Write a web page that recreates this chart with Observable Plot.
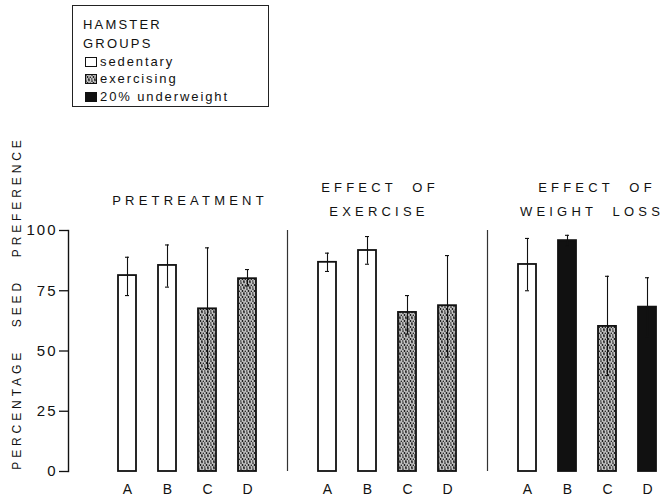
<!DOCTYPE html>
<html><head><meta charset="utf-8">
<script src="https://cdn.jsdelivr.net/npm/d3@7"></script>
<script src="https://cdn.jsdelivr.net/npm/@observablehq/plot@0.6"></script>
<style>
body{margin:0;background:#fff;}
#wrap{position:relative;width:667px;height:501px;font-family:"Liberation Sans",Arial,sans-serif;color:#111;overflow:hidden;}
#wrap svg.plot{position:absolute;left:0;top:0;}
.ttl{position:absolute;width:220px;text-align:center;font-size:13px;letter-spacing:4.2px;white-space:pre;line-height:1;}
#legend{position:absolute;left:72px;top:5px;width:197px;height:102px;border:1.6px solid #222;box-sizing:border-box;font-size:13px;line-height:1;}
#legend .ln{position:absolute;left:10px;white-space:pre;}
#legend .cap{letter-spacing:2.2px;}
#legend .low{letter-spacing:1.9px;left:27px;}
#legend .sw{position:absolute;left:12px;width:12px;height:10px;box-sizing:border-box;border:1.3px solid #111;overflow:hidden;}
#ylab{position:absolute;left:17px;top:303px;transform:translate(-50%,-50%) rotate(-90deg);font-size:12px;letter-spacing:3.9px;white-space:pre;line-height:1;}
</style></head><body><div id="wrap"></div><script>
// ---- data ----
const groups = ["PRETREATMENT", "EFFECT OF EXERCISE", "EFFECT OF WEIGHT LOSS"];
const letters = ["A", "B", "C", "D"];
const conditionNames = ["sedentary", "exercising", "20% underweight"];
const yTicks = [0, 25, 50, 75, 100];
// condition index per bar: 0 sedentary, 1 exercising, 2 underweight
const preCond = [0, 0, 1, 1];
const exCond  = [0, 0, 1, 1];
const wlCond  = [0, 2, 1, 2];
const preMean = [81.3, 85.5, 67.5, 80.0];
const preLo   = [73.0, 76.5, 42.7, 77.0];
const preHi   = [88.9, 94.0, 92.8, 83.8];
const exMean  = [86.8, 91.7, 66.0, 68.8];
const exLo    = [83.0, 86.0, 57.0, 47.5];
const exHi    = [90.6, 97.5, 73.0, 89.6];
const wlMean  = [85.9, 95.8, 60.2, 68.2];
const wlLo    = [75.0, 93.5, 39.8, 56.0];
const wlHi    = [96.7, 98.0, 81.0, 80.4];

const series = [
  {mean: preMean, lo: preLo, hi: preHi, cond: preCond},
  {mean: exMean, lo: exLo, hi: exHi, cond: exCond},
  {mean: wlMean, lo: wlLo, hi: wlHi, cond: wlCond}
];
const rows = [];
series.forEach((s, g) => letters.forEach((l, i) => rows.push({
  key: g + l, letter: l, group: groups[g], mean: s.mean[i], lo: s.lo[i], hi: s.hi[i], cond: s.cond[i]
})));
const barKeys = rows.map(d => d.key);
const sepKeys = ["s1", "s2"];
const xDomain = [...barKeys.slice(0, 4), "s1", ...barKeys.slice(4, 8), "s2", ...barKeys.slice(8)];
const letterOf = new Map(rows.map(d => [d.key, d.letter]));

const fills = ["white", "url(#stip)", "#111"];

const plot = Plot.plot({
  width: 667, height: 501,
  marginLeft: 68, marginRight: 0, marginTop: 230, marginBottom: 30,
  style: {fontFamily: '"Liberation Sans", Arial, sans-serif', color: "#111", background: "transparent"},
  x: {type: "band", domain: xDomain, paddingInner: 0.557, paddingOuter: 0.654, align: 0.81, axis: null},
  y: {domain: [0, 100], axis: null},
  marks: [
    Plot.frame({anchor: "left", strokeWidth: 1.4}),
    Plot.axisY({ticks: yTicks, tickSize: 9, tickPadding: 2, fontSize: 15, label: null, strokeWidth: 1.3}),
    Plot.axisX({ticks: barKeys, tickSize: 0, tickPadding: 13, fontSize: 14, label: null, tickFormat: k => letterOf.get(k)}),
    Plot.ruleX(sepKeys, {x: d => d, y1: 0, y2: 100, strokeWidth: 1.2, stroke: "#333"}),
    ...[0, 1, 2].map(c => Plot.barY(rows.filter(d => d.cond === c), {x: "key", y: "mean", fill: fills[c], stroke: "#111", strokeWidth: 1.8})),
    Plot.ruleX(rows, {x: "key", y1: "lo", y2: "hi", strokeWidth: 1.1, stroke: "#111"}),
    Plot.tickY(rows, {x: "key", y: "hi", insetLeft: 7, insetRight: 7, strokeWidth: 1.1}),
    Plot.tickY(rows, {x: "key", y: "lo", insetLeft: 7, insetRight: 7, strokeWidth: 1.1})
  ]
});
plot.classList.add("plot");
const ns = "http://www.w3.org/2000/svg";
const defs = document.createElementNS(ns, "defs");
defs.innerHTML = `<pattern id="stip" patternUnits="userSpaceOnUse" width="6" height="6">
  <rect width="6" height="6" fill="#c4c4c4"/>
  <circle cx="1" cy="1" r="0.85" fill="#111"/><circle cx="4" cy="0.6" r="0.8" fill="#222"/>
  <circle cx="2.5" cy="3" r="0.9" fill="#111"/><circle cx="5.3" cy="3.3" r="0.8" fill="#222"/>
  <circle cx="0.8" cy="5" r="0.8" fill="#222"/><circle cx="3.9" cy="5.2" r="0.85" fill="#111"/>
</pattern>`;
plot.insertBefore(defs, plot.firstChild);
plot.querySelectorAll('g[aria-label="y-axis tick label"] text').forEach(t => t.style.letterSpacing = "2px");

const wrap = document.getElementById("wrap");
wrap.appendChild(plot);

// titles
function title(text, cx, cy) {
  const d = document.createElement("div");
  d.className = "ttl"; d.textContent = text;
  d.style.left = (cx - 110) + "px"; d.style.top = (cy - 6) + "px";
  wrap.appendChild(d);
}
title("PRETREATMENT", 190, 200);
title("EFFECT  OF", 380, 187);
title("EXERCISE", 379, 211);
title("EFFECT  OF", 597, 187);
title("WEIGHT  LOSS", 592, 211);

// y label
const yl = document.createElement("div");
yl.id = "ylab"; yl.textContent = "PERCENTAGE   SEED   PREFERENCE";
wrap.appendChild(yl);

// legend
const lg = document.createElement("div");
lg.id = "legend";
const swStyle = ["background:white;", "background:#c4c4c4;", "background:#111;"];
const swTop = [51, 68, 86];
const txTop = [49, 66, 84];
lg.innerHTML = `<div class="ln cap" style="top:12px">HAMSTER</div>
<div class="ln cap" style="top:31px">GROUPS</div>` +
  conditionNames.map((n, i) => `<div class="sw" style="top:${swTop[i]}px;${swStyle[i]}">${i === 1 ? '<svg width="12" height="10" style="position:absolute;left:-1px;top:-1px"><rect width="12" height="10" fill="url(#stip)"/></svg>' : ''}</div>
<div class="ln low" style="top:${txTop[i]}px">${n}</div>`).join("");
wrap.appendChild(lg);
</script></body></html>
